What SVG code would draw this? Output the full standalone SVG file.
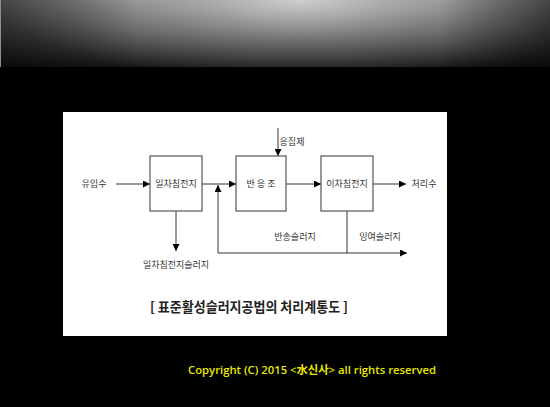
<svg xmlns="http://www.w3.org/2000/svg" width="550" height="407" viewBox="0 0 550 407">
<defs>
<linearGradient id="bv" x1="0" y1="0" x2="0" y2="1">
<stop offset="0" stop-color="#8a8a8a"/>
<stop offset="0.45" stop-color="#555"/>
<stop offset="1" stop-color="#141414"/>
</linearGradient>
<radialGradient id="hl" cx="300" cy="0" r="300" gradientUnits="userSpaceOnUse" gradientTransform="translate(300 0) scale(1 0.28) translate(-300 0)">
<stop offset="0" stop-color="#e0e0e0" stop-opacity="0.8"/>
<stop offset="0.5" stop-color="#bbb" stop-opacity="0.35"/>
<stop offset="1" stop-color="#999" stop-opacity="0"/>
</radialGradient>
<linearGradient id="sd" x1="0" y1="0" x2="1" y2="0">
<stop offset="0" stop-color="#000" stop-opacity="0.5"/>
<stop offset="0.25" stop-color="#000" stop-opacity="0"/>
<stop offset="0.8" stop-color="#000" stop-opacity="0"/>
<stop offset="1" stop-color="#000" stop-opacity="0.5"/>
</linearGradient>
<marker id="ar" viewBox="0 0 8 8" refX="8" refY="4" markerWidth="7" markerHeight="7" markerUnits="userSpaceOnUse" orient="auto">
<path d="M0,0 L8,4 L0,8 z" fill="#000"/>
</marker>
</defs>
<style>
.bx{fill:#fff;stroke:#555;stroke-width:1.2}
.ln{fill:none;stroke:#333;stroke-width:1}
.t{font-family:"Noto Sans CJK KR","Noto Sans",sans-serif;font-size:9px;fill:#333}
.tt{font-family:"Noto Sans CJK KR","Noto Sans",sans-serif;font-size:14px;fill:#222;font-weight:bold}
.cp{font-family:"Open Sans","Noto Sans CJK KR",sans-serif;font-size:11.5px;fill:#e8e800;font-weight:600}
</style>
<rect x="0" y="0" width="550" height="407" fill="#000"/>
<g id="banner">
<rect x="0" y="0" width="550" height="67" fill="url(#bv)"/>
<rect x="0" y="0" width="550" height="67" fill="url(#hl)"/>
<rect x="0" y="0" width="550" height="67" fill="url(#sd)"/>
<rect x="0" y="0" width="1" height="67" fill="#8890a0"/>
</g>
<rect id="panel" x="63" y="112" width="384" height="224" fill="#fff"/>
<g id="connectors">
<line class="ln" x1="116" y1="184" x2="150" y2="184" marker-end="url(#ar)"/>
<line class="ln" x1="202" y1="184" x2="236" y2="184" marker-end="url(#ar)"/>
<line class="ln" x1="286" y1="184" x2="321" y2="184" marker-end="url(#ar)"/>
<line class="ln" x1="373" y1="184" x2="406" y2="184" marker-end="url(#ar)"/>
<line class="ln" x1="278" y1="128" x2="278" y2="156" marker-end="url(#ar)"/>
<line class="ln" x1="176" y1="211" x2="176" y2="251" marker-end="url(#ar)"/>
<line class="ln" x1="347" y1="211" x2="347" y2="253"/>
<line class="ln" x1="218" y1="253" x2="407" y2="253" marker-end="url(#ar)"/>
<line class="ln" x1="218" y1="253" x2="218" y2="185" marker-end="url(#ar)"/>
</g>
<g id="n1"><rect class="bx" x="150" y="156" width="52" height="55"/><text class="t" x="176" y="187" text-anchor="middle">일차침전지</text></g>
<g id="n2"><rect class="bx" x="236" y="156" width="50" height="55"/><text class="t" x="261" y="187" text-anchor="middle">반 응 조</text></g>
<g id="n3"><rect class="bx" x="321" y="156" width="52" height="55"/><text class="t" x="347" y="187" text-anchor="middle">이차침전지</text></g>
<g id="labels">
<text class="t" x="94" y="187" text-anchor="middle">유입수</text>
<text class="t" x="424" y="187" text-anchor="middle">처리수</text>
<text class="t" x="292" y="145" text-anchor="middle">응집제</text>
<text class="t" x="176" y="268" text-anchor="middle">일차침전지슬러지</text>
<text class="t" x="295" y="240" text-anchor="middle">반송슬러지</text>
<text class="t" x="380" y="240" text-anchor="middle">잉여슬러지</text>
<text class="tt" x="150" y="312" textLength="198" lengthAdjust="spacingAndGlyphs">[ 표준활성슬러지공법의  처리계통도 ]</text>
</g>
<text class="cp" x="188" y="374" textLength="248" lengthAdjust="spacingAndGlyphs">Copyright (C) 2015 &lt;水신사&gt; all  rights reserved</text>
</svg>
